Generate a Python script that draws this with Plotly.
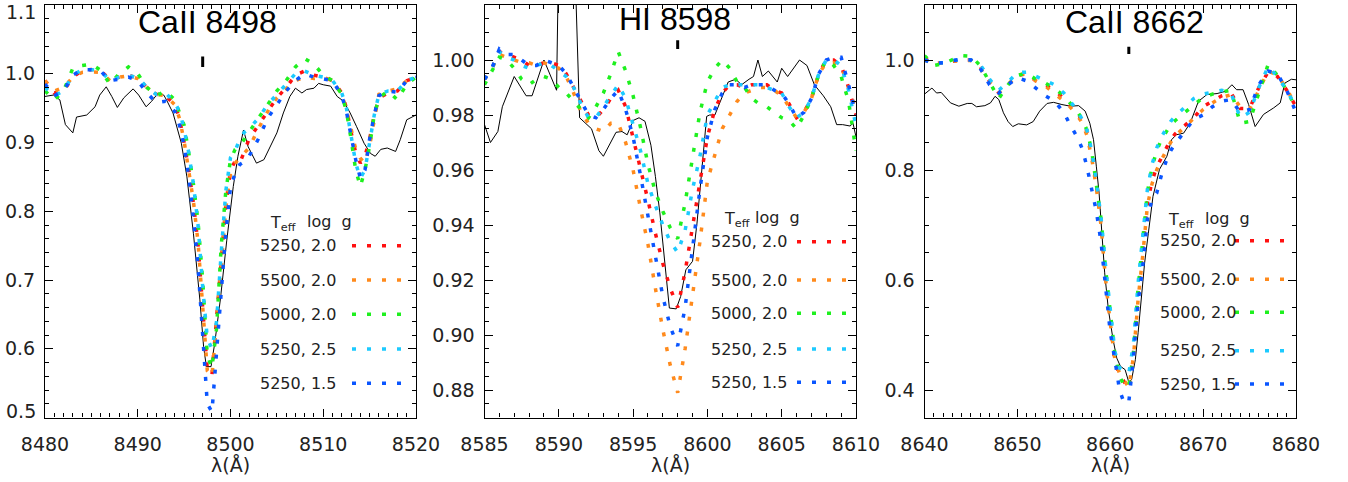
import plotly.graph_objects as go

# ---------------- data ----------------
LINE_NAMES = ["CaII 8498", "HI 8598", "CaII 8662"]
LINE_CENTERS = [8497.0, 8598.0, 8662.0]
X_RANGES = [[8480, 8520], [8585, 8610], [8640, 8680]]
Y_RANGES = [[0.5, 1.1], [0.87, 1.02]]
Y_RANGES.append([0.35, 1.1])

MODEL_LABELS = ["5250, 2.0", "5500, 2.0", "5000, 2.0", "5250, 2.5", "5250, 1.5"]
MODEL_COLORS = ["#ff1010", "#ff8a1c", "#1ef01e", "#1ccaff", "#0a55ff"]

# ---- panel 1 : CaII 8498 ----
obs1_wl = [8480.0, 8480.9, 8481.6, 8482.2, 8483.0, 8483.4, 8484.5, 8485.4, 8485.9, 8486.6,
           8487.2, 8487.8, 8488.5, 8489.5, 8490.1, 8490.9, 8491.5, 8492.2, 8492.8, 8493.1,
           8493.8, 8494.7, 8495.3, 8496.0, 8496.7, 8497.1, 8497.4, 8497.9, 8498.3, 8498.9,
           8499.6, 8500.3, 8500.8, 8501.4, 8501.9, 8502.8, 8503.6, 8504.3, 8505.0, 8505.7,
           8506.4, 8507.0, 8507.7, 8508.2, 8509.0, 8509.5, 8510.0, 8510.8, 8511.5, 8512.2,
           8512.9, 8513.6, 8514.4, 8515.1, 8515.6, 8516.2, 8516.9, 8517.8, 8518.3, 8519.0, 8520.0]
obs1_fl = [0.967, 0.969, 0.962, 0.926, 0.914, 0.937, 0.940, 0.952, 0.969, 0.981,
           0.967, 0.951, 0.965, 0.978, 0.969, 0.952, 0.960, 0.972, 0.969, 0.962,
           0.943, 0.899, 0.850, 0.768, 0.671, 0.603, 0.574, 0.574, 0.608, 0.671,
           0.758, 0.836, 0.880, 0.918, 0.894, 0.870, 0.875, 0.894, 0.914, 0.943,
           0.967, 0.979, 0.972, 0.977, 0.979, 0.986, 0.984, 0.982, 0.967, 0.960,
           0.943, 0.923, 0.899, 0.884, 0.880, 0.890, 0.892, 0.887, 0.904, 0.933, 0.940]

mod1_wl = [8480, 8481, 8482, 8483, 8484, 8485, 8486, 8487, 8488, 8489, 8490, 8491, 8492, 8493, 8494,
           8494.5, 8495, 8495.5, 8496, 8496.5, 8497, 8497.5, 8498, 8498.5, 8499, 8499.5, 8500, 8500.5,
           8501, 8501.5, 8502,
           8503, 8504, 8505, 8506, 8507, 8508, 8509, 8510, 8511,
           8512, 8512.5, 8513, 8513.5, 8514, 8514.5, 8515, 8515.5, 8516,
           8517, 8518, 8519, 8520]
mod1_t5250_g20 = [0.990, 0.972, 0.975, 0.995, 1.005, 1.006, 1.004, 0.992, 0.995, 0.998, 0.993, 0.980, 0.970, 0.968, 0.955,
                  0.935, 0.900, 0.860, 0.812, 0.752, 0.660, 0.570, 0.562, 0.640, 0.725, 0.810, 0.860, 0.873,
                  0.870, 0.888, 0.905,
                  0.925, 0.945, 0.965, 0.980, 0.998, 1.004, 0.998, 0.995, 0.990,
                  0.972, 0.950, 0.915, 0.885, 0.870, 0.880, 0.905, 0.940, 0.965,
                  0.972, 0.975, 0.990, 0.995]
mod1_t5500_g20 = [0.990, 0.975, 0.980, 0.995, 1.002, 1.003, 1.002, 0.990, 0.995, 0.997, 0.993, 0.980, 0.970, 0.968, 0.955,
                  0.935, 0.902, 0.862, 0.815, 0.755, 0.662, 0.568, 0.560, 0.635, 0.720, 0.805, 0.855, 0.870,
                  0.878, 0.885, 0.892,
                  0.920, 0.945, 0.965, 0.978, 0.990, 0.995, 0.993, 0.995, 0.990,
                  0.970, 0.948, 0.920, 0.890, 0.877, 0.870, 0.895, 0.935, 0.970,
                  0.975, 0.978, 0.990, 0.995]
mod1_t5000_g20 = [0.975, 0.962, 0.975, 1.008, 1.012, 1.014, 1.005, 0.985, 1.000, 1.010, 1.000, 0.980, 0.968, 0.975, 0.962,
                  0.945, 0.925, 0.885, 0.840, 0.785, 0.700, 0.590, 0.572, 0.630, 0.750, 0.830, 0.875, 0.890,
                  0.895, 0.905, 0.915,
                  0.935, 0.955, 0.975, 0.990, 1.010, 1.022, 1.014, 0.998, 0.990,
                  0.970, 0.945, 0.905, 0.860, 0.836, 0.860, 0.895, 0.940, 0.965,
                  0.975, 0.962, 0.985, 0.995]
mod1_t5250_g25 = [0.980, 0.968, 0.975, 0.998, 1.006, 1.006, 1.004, 0.990, 0.995, 0.997, 0.995, 0.980, 0.970, 0.972, 0.958,
                  0.945, 0.920, 0.885, 0.840, 0.780, 0.690, 0.615, 0.600, 0.640, 0.740, 0.830, 0.878, 0.888,
                  0.905, 0.915, 0.920,
                  0.935, 0.955, 0.970, 0.985, 1.000, 1.004, 0.998, 0.995, 0.990,
                  0.972, 0.950, 0.910, 0.870, 0.848, 0.860, 0.900, 0.940, 0.970,
                  0.975, 0.975, 0.990, 0.995]
mod1_t5250_g15 = [0.985, 0.968, 0.975, 0.998, 1.006, 1.006, 1.004, 0.990, 0.992, 0.995, 0.990, 0.972, 0.958, 0.960, 0.945,
                  0.925, 0.895, 0.850, 0.790, 0.720, 0.620, 0.520, 0.508, 0.600, 0.690, 0.770, 0.835, 0.855,
                  0.868, 0.872, 0.880,
                  0.905, 0.935, 0.955, 0.975, 0.990, 1.000, 0.995, 0.993, 0.990,
                  0.968, 0.945, 0.910, 0.875, 0.848, 0.860, 0.905, 0.940, 0.968,
                  0.975, 0.973, 0.990, 0.995]

# ---- panel 2 : HI 8598 ----
obs2_wl = [8585.0, 8585.4, 8585.9, 8586.2, 8587.0, 8587.8, 8588.2, 8589.0, 8589.85, 8590.02,
           8591.0, 8591.4, 8592.2, 8592.7, 8593.0, 8593.85, 8594.25, 8594.6, 8595.0, 8595.4,
           8595.8, 8596.2, 8596.5, 8596.8, 8597.44, 8597.9, 8598.2, 8598.55, 8599.0, 8599.3,
           8599.95, 8600.15, 8600.5, 8601.0, 8601.4, 8601.9, 8602.3, 8602.8, 8603.1, 8603.4,
           8603.7, 8604.1, 8604.7, 8605.0, 8605.4, 8606.2, 8606.7, 8607.2, 8607.8, 8608.3,
           8608.7, 8609.1, 8609.6, 8609.8, 8610.0]
obs2_fl = [0.9765, 0.970, 0.974, 0.983, 0.994, 0.987, 0.987, 1.000, 0.989, 1.050,
           1.050, 0.979, 0.975, 0.967, 0.965, 0.9737, 0.974, 0.9728, 0.978, 0.979,
           0.9777, 0.969, 0.9577, 0.9444, 0.9098, 0.9095, 0.914, 0.9237, 0.9268, 0.9407,
           0.9795, 0.980, 0.980, 0.987, 0.992, 0.993, 0.991, 0.993, 0.994, 1.000,
           0.994, 0.996, 0.992, 0.997, 0.994, 1.000, 0.998, 0.991, 0.987, 0.983,
           0.9765, 0.9765, 0.976, 0.977, 0.972]

mod2_wl = [8585, 8585.5, 8586, 8586.5, 8587, 8587.5, 8588, 8588.5, 8589, 8589.5,
           8590, 8590.5, 8591, 8591.5, 8592, 8592.5, 8593, 8593.5, 8594, 8594.5,
           8595, 8595.5, 8596, 8596.5, 8597, 8597.5, 8598, 8598.5, 8599, 8599.5,
           8600, 8600.5, 8601, 8601.5, 8602, 8602.5, 8603, 8603.5, 8604, 8604.5,
           8605, 8605.5, 8606, 8606.5, 8607, 8607.5, 8608, 8608.5, 8609, 8609.5, 8610]
mod2_t5250_g20 = [0.993, 0.997, 1.003, 1.002, 1.001, 1.000, 0.998, 0.998, 0.999, 0.999,
                  0.998, 0.995, 0.990, 0.985, 0.980, 0.979, 0.982, 0.986, 0.989, 0.983,
                  0.972, 0.961, 0.949, 0.937, 0.926, 0.917, 0.910, 0.923, 0.940, 0.957,
                  0.972, 0.982, 0.988, 0.991, 0.991, 0.990, 0.991, 0.991, 0.991, 0.989,
                  0.988, 0.984, 0.979, 0.981, 0.986, 0.995, 1.000, 1.000, 0.998, 0.990, 0.980]
mod2_t5500_g20 = [0.993, 0.997, 1.002, 1.001, 1.000, 0.999, 0.999, 0.998, 0.999, 0.998,
                  0.997, 0.994, 0.988, 0.981, 0.977, 0.975, 0.974, 0.977, 0.977, 0.970,
                  0.960, 0.946, 0.933, 0.917, 0.902, 0.889, 0.879, 0.895, 0.914, 0.934,
                  0.956, 0.966, 0.975, 0.980, 0.985, 0.988, 0.989, 0.990, 0.990, 0.989,
                  0.987, 0.983, 0.979, 0.981, 0.986, 0.995, 0.999, 0.999, 0.998, 0.990, 0.982]
mod2_t5000_g20 = [0.991, 0.996, 1.001, 1.000, 0.997, 0.993, 0.991, 0.993, 0.994, 0.993,
                  0.990, 0.988, 0.985, 0.982, 0.979, 0.983, 0.988, 0.995, 1.003, 0.996,
                  0.987, 0.9755, 0.962, 0.952, 0.945, 0.939, 0.935, 0.948, 0.964, 0.981,
                  0.992, 0.997, 1.000, 0.997, 0.992, 0.990, 0.986, 0.984, 0.983, 0.981,
                  0.979, 0.978, 0.975, 0.980, 0.986, 0.995, 1.000, 0.998, 0.994, 0.985, 0.967]
mod2_t5250_g25 = [0.993, 0.997, 1.003, 1.001, 1.000, 0.998, 0.997, 0.998, 0.999, 0.998,
                  0.996, 0.994, 0.990, 0.984, 0.979, 0.979, 0.983, 0.987, 0.991, 0.986,
                  0.976, 0.967, 0.955, 0.947, 0.940, 0.934, 0.930, 0.938, 0.953, 0.965,
                  0.980, 0.985, 0.990, 0.991, 0.991, 0.991, 0.991, 0.991, 0.990, 0.989,
                  0.988, 0.983, 0.979, 0.981, 0.986, 0.995, 1.000, 1.000, 0.998, 0.989, 0.976]
mod2_t5250_g15 = [0.993, 0.997, 1.004, 1.002, 1.002, 1.000, 0.998, 0.998, 1.000, 0.999,
                  0.998, 0.995, 0.990, 0.985, 0.980, 0.979, 0.982, 0.986, 0.989, 0.982,
                  0.972, 0.958, 0.943, 0.929, 0.914, 0.903, 0.896, 0.910, 0.932, 0.953,
                  0.972, 0.982, 0.988, 0.991, 0.991, 0.990, 0.991, 0.991, 0.991, 0.989,
                  0.988, 0.984, 0.979, 0.981, 0.986, 0.995, 1.000, 1.001, 1.001, 0.991, 0.980]

# ---- panel 3 : CaII 8662 ----
obs3_wl = [8640.0, 8640.8, 8641.3, 8641.8, 8642.8, 8643.7, 8644.6, 8645.1, 8645.6, 8646.5,
           8647.1, 8647.6, 8648.0, 8648.5, 8649.0, 8649.5, 8650.1, 8651.0, 8651.7, 8652.4,
           8653.2, 8653.9, 8654.8, 8655.7, 8656.6, 8657.3, 8657.8, 8658.2, 8658.5, 8658.8,
           8659.1, 8659.4, 8659.8, 8660.3, 8660.7, 8661.1, 8661.6, 8662.0, 8662.3, 8662.7,
           8663.0, 8663.4, 8663.7, 8664.1, 8664.6, 8665.3, 8666.1, 8666.6, 8667.1, 8667.9,
           8668.6, 8669.5, 8670.4, 8671.5, 8672.4, 8673.1, 8673.6, 8674.3, 8674.9, 8675.6,
           8676.5, 8677.6, 8678.3, 8678.8, 8679.5, 8680.0]
obs3_fl = [0.938, 0.949, 0.940, 0.941, 0.922, 0.916, 0.921, 0.921, 0.915, 0.917,
           0.922, 0.934, 0.928, 0.904, 0.888, 0.879, 0.884, 0.882, 0.888, 0.907,
           0.921, 0.923, 0.919, 0.916, 0.917, 0.907, 0.885, 0.855, 0.807, 0.758,
           0.685, 0.613, 0.546, 0.492, 0.458, 0.443, 0.437, 0.414, 0.419, 0.455,
           0.504, 0.576, 0.631, 0.685, 0.752, 0.801, 0.825, 0.855, 0.864, 0.867,
           0.885, 0.925, 0.937, 0.939, 0.943, 0.955, 0.946, 0.946, 0.919, 0.879,
           0.901, 0.913, 0.922, 0.958, 0.965, 0.964]

mod3_wl = [8640, 8641, 8642, 8643, 8644, 8645, 8646, 8647, 8648, 8649, 8650, 8651, 8652, 8653, 8654, 8655,
           8655.5, 8656, 8656.5, 8657, 8657.5, 8658, 8658.5, 8659, 8659.5, 8660, 8660.5, 8661,
           8661.5, 8662, 8662.5, 8663, 8663.5, 8664, 8664.5, 8665, 8665.5, 8666, 8666.5, 8667,
           8668, 8669, 8670, 8671, 8672, 8673, 8674, 8675, 8676, 8677, 8678, 8679, 8680]
mod3_t5250_g20 = [1.003, 0.993, 0.995, 0.997, 1.000, 1.000, 0.988, 0.962, 0.940, 0.955, 0.972, 0.975, 0.962, 0.955, 0.945, 0.930,
                  0.922, 0.912, 0.902, 0.890, 0.870, 0.830, 0.775, 0.710, 0.600, 0.522, 0.450, 0.428,
                  0.415, 0.402, 0.465, 0.575, 0.655, 0.740, 0.780, 0.805, 0.822, 0.840, 0.855, 0.866,
                  0.880, 0.895, 0.915, 0.925, 0.935, 0.940, 0.912, 0.912, 0.950, 0.978, 0.970, 0.945, 0.915]
mod3_t5500_g20 = [1.000, 0.992, 0.995, 0.997, 1.000, 0.999, 0.985, 0.960, 0.940, 0.955, 0.973, 0.975, 0.962, 0.953, 0.940, 0.925,
                  0.918, 0.908, 0.898, 0.885, 0.862, 0.822, 0.768, 0.700, 0.600, 0.522, 0.455, 0.430,
                  0.418, 0.405, 0.460, 0.565, 0.645, 0.735, 0.775, 0.800, 0.818, 0.835, 0.850, 0.862,
                  0.878, 0.895, 0.910, 0.922, 0.932, 0.937, 0.915, 0.910, 0.945, 0.980, 0.972, 0.948, 0.915]
mod3_t5000_g20 = [1.008, 0.990, 0.993, 1.000, 1.008, 1.007, 0.990, 0.960, 0.930, 0.955, 0.972, 0.976, 0.965, 0.958, 0.948, 0.935,
                  0.925, 0.915, 0.905, 0.892, 0.872, 0.835, 0.778, 0.712, 0.620, 0.535, 0.465, 0.425,
                  0.408, 0.405, 0.470, 0.585, 0.675, 0.760, 0.805, 0.835, 0.855, 0.870, 0.882, 0.890,
                  0.905, 0.918, 0.932, 0.938, 0.942, 0.945, 0.885, 0.888, 0.940, 0.992, 0.972, 0.945, 0.912]
mod3_t5250_g25 = [1.000, 0.994, 0.995, 0.998, 1.002, 1.000, 0.992, 0.965, 0.945, 0.960, 0.977, 0.978, 0.970, 0.962, 0.955, 0.940,
                  0.930, 0.918, 0.905, 0.892, 0.872, 0.835, 0.780, 0.715, 0.625, 0.545, 0.470, 0.440,
                  0.435, 0.430, 0.485, 0.595, 0.680, 0.765, 0.810, 0.840, 0.860, 0.875, 0.888, 0.898,
                  0.915, 0.930, 0.938, 0.942, 0.945, 0.940, 0.895, 0.905, 0.950, 0.988, 0.970, 0.945, 0.915]
mod3_t5250_g15 = [1.000, 0.994, 0.995, 0.998, 1.002, 1.000, 0.985, 0.955, 0.940, 0.955, 0.968, 0.962, 0.948, 0.935, 0.925, 0.905,
                  0.888, 0.872, 0.858, 0.838, 0.805, 0.765, 0.725, 0.670, 0.585, 0.505, 0.455, 0.400,
                  0.376, 0.378, 0.460, 0.560, 0.625, 0.710, 0.748, 0.758, 0.790, 0.815, 0.835, 0.848,
                  0.870, 0.892, 0.900, 0.915, 0.925, 0.928, 0.905, 0.910, 0.955, 0.980, 0.975, 0.945, 0.905]

OBS = [(obs1_wl, obs1_fl), (obs2_wl, obs2_fl), (obs3_wl, obs3_fl)]
MODELS = [
    (mod1_wl, [mod1_t5250_g20, mod1_t5500_g20, mod1_t5000_g20, mod1_t5250_g25, mod1_t5250_g15]),
    (mod2_wl, [mod2_t5250_g20, mod2_t5500_g20, mod2_t5000_g20, mod2_t5250_g25, mod2_t5250_g15]),
    (mod3_wl, [mod3_t5250_g20, mod3_t5500_g20, mod3_t5000_g20, mod3_t5250_g25, mod3_t5250_g15]),
]

# ---------------- layout helpers ----------------
W, H = 1348, 482
def px(x):
    return x / W
def py(y):
    return 1 - y / H

X_DOM_PX = [(45, 416), (484.5, 856), (924.5, 1296)]
Y_DOM_PX = (5, 417.5)
Y_TICKVALS = [[0.6, 0.7, 0.8, 0.9, 1.0],
              [0.88, 0.90, 0.92, 0.94, 0.96, 0.98, 1.00],
              [0.4, 0.6, 0.8, 1.0]]
Y_MINOR = [0.02, 0.005, 0.05]
Y_FMT = ["{:.1f}", "{:.2f}", "{:.1f}"]
X_DTICK = [10, 5, 10]
MARK_Y = [(1.010, 1.025), (1.0040, 1.0072), (1.011, 1.024)]

TITLE_POS = [(207, 22), (675, 19), (1134, 22)]
LEG_TEXT_X = [258.3, 709, 1158.3]
LEG_HDR_T_X = [268.3, 721.7, 1166]
LEG_HDR_LOG_X = [305, 752.7, 1203.3]
LEG_HDR_Y = [221.7, 218, 218.3]
LEG_ROWS_Y = [[245.7, 280, 314.3, 349, 383.3],
              [241.7, 280, 313.3, 349, 382.3],
              [240.7, 279.3, 312.3, 350.7, 384]]
LEG_SAMPLE_X = [(352, 401), (797, 847), (1235, 1294)]

TICKFONT = dict(family="DejaVu Sans", size=19, color="#222")
fig = go.Figure()

annotations = []
shapes = []

for i in range(3):
    xa = "x" if i == 0 else f"x{i+1}"
    ya = "y" if i == 0 else f"y{i+1}"
    ow, of = OBS[i]
    fig.add_trace(go.Scatter(x=ow, y=of, mode="lines", xaxis=xa, yaxis=ya,
                             line=dict(color="black", width=1), showlegend=False,
                             hoverinfo="skip"))
    mw, mflux = MODELS[i]
    for k, fl in enumerate(mflux):
        fig.add_trace(go.Scatter(x=mw, y=fl, mode="lines", xaxis=xa, yaxis=ya,
                                 line=dict(color=MODEL_COLORS[k], width=3.5, dash="4px,11px"),
                                 showlegend=False, name=MODEL_LABELS[k]))

    axkw = dict(showline=True, linecolor="black", linewidth=1.2, mirror="allticks",
                ticks="inside", ticklen=8, tickwidth=1, tickcolor="black", automargin=False,
                showgrid=False, zeroline=False, tickfont=TICKFONT)
    x0, x1 = X_DOM_PX[i]
    xkey = "xaxis" if i == 0 else f"xaxis{i+1}"
    ykey = "yaxis" if i == 0 else f"yaxis{i+1}"
    fig.layout[xkey] = dict(axkw, domain=[px(x0), px(x1)], range=X_RANGES[i], anchor=ya,
                            dtick=X_DTICK[i], tick0=X_RANGES[i][0], ticklabelstandoff=10,
                            minor=dict(dtick=1, ticks="inside", ticklen=4, tickcolor="black",
                                       tickwidth=1, showgrid=False))
    lo, hi = Y_RANGES[i]
    fig.layout[ykey] = dict(axkw, domain=[py(Y_DOM_PX[1]), py(Y_DOM_PX[0])], range=[lo, hi],
                            anchor=xa, ticklabelstandoff=5,
                            tickmode="array", tickvals=Y_TICKVALS[i],
                            ticktext=[Y_FMT[i].format(v) for v in Y_TICKVALS[i]],
                            minor=dict(dtick=Y_MINOR[i], tick0=0, ticks="inside", ticklen=4,
                                       tickcolor="black", tickwidth=1, showgrid=False))

    # line-centre marker
    shapes.append(dict(type="line", xref=xa, yref=ya, x0=LINE_CENTERS[i], x1=LINE_CENTERS[i],
                       y0=MARK_Y[i][0], y1=MARK_Y[i][1], line=dict(color="black", width=3)))
    # title
    tx, ty = TITLE_POS[i]
    annotations.append(dict(text=LINE_NAMES[i], xref="paper", yref="paper", x=px(tx), y=py(ty),
                            xanchor="center", yanchor="middle", showarrow=False,
                            font=dict(family="Liberation Sans", size=32, color="black")))
    # x label
    annotations.append(dict(text="λ(Å)", xref="paper", yref="paper", x=px((x0 + x1) / 2), y=py(465),
                            xanchor="center", yanchor="middle", showarrow=False,
                            font=dict(family="DejaVu Sans", size=19, color="#222")))
    # legend header
    annotations.append(dict(text="T<sub>eff</sub>", xref="paper", yref="paper",
                            x=px(LEG_HDR_T_X[i]), y=py(LEG_HDR_Y[i] + 2), xanchor="left",
                            yanchor="middle", showarrow=False,
                            font=dict(family="DejaVu Sans", size=16, color="#222")))
    annotations.append(dict(text="log  g", xref="paper", yref="paper",
                            x=px(LEG_HDR_LOG_X[i]), y=py(LEG_HDR_Y[i]), xanchor="left",
                            yanchor="middle", showarrow=False,
                            font=dict(family="DejaVu Sans", size=16, color="#222")))
    for k in range(5):
        yy = LEG_ROWS_Y[i][k]
        annotations.append(dict(text=MODEL_LABELS[k], xref="paper", yref="paper",
                                x=px(LEG_TEXT_X[i]), y=py(yy), xanchor="left", yanchor="middle",
                                showarrow=False,
                                font=dict(family="DejaVu Sans", size=16, color="#222")))
        sx0, sx1 = LEG_SAMPLE_X[i]
        shapes.append(dict(type="line", xref="paper", yref="paper", x0=px(sx0), x1=px(sx1),
                           y0=py(yy), y1=py(yy),
                           line=dict(color=MODEL_COLORS[k], width=3.5, dash="4px,11px")))

# end labels of panel 1 y axis (drawn inside like the original)
annotations.append(dict(text="1.1", xref="paper", yref="paper", x=px(38), y=py(12),
                        xanchor="right", yanchor="middle", showarrow=False, font=TICKFONT))
annotations.append(dict(text="0.5", xref="paper", yref="paper", x=px(38), y=py(411),
                        xanchor="right", yanchor="middle", showarrow=False, font=TICKFONT))

fig.update_layout(width=W, height=H, margin=dict(l=0, r=0, t=0, b=0),
                  paper_bgcolor="white", plot_bgcolor="white",
                  annotations=annotations, shapes=shapes, showlegend=False)

fig.write_html("out.html")
